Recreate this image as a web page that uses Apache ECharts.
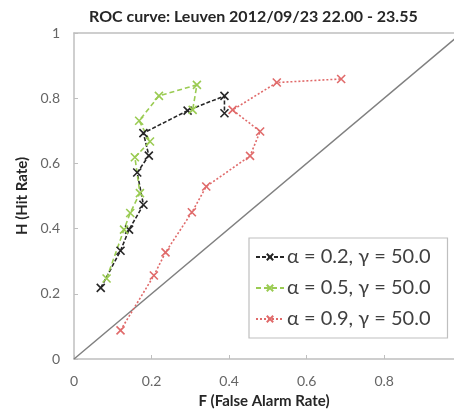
<!DOCTYPE html>
<html>
<head>
<meta charset="utf-8">
<script src="https://cdn.jsdelivr.net/npm/echarts@6/dist/echarts.min.js"></script>
<style>
  html, body { margin: 0; padding: 0; background: #fff; }
  #chart { width: 454px; height: 414px; }
</style>
</head>
<body>
<div id="chart"></div>
<script>
// ROC points: F (false alarm rate) and H (hit rate) per smoothing setting
const alpha02F = [0.069, 0.120, 0.142, 0.179, 0.163, 0.193, 0.179, 0.293, 0.388, 0.388];
const alpha02H = [0.218, 0.332, 0.397, 0.473, 0.572, 0.624, 0.693, 0.762, 0.807, 0.754];

const alpha05F = [0.084, 0.129, 0.145, 0.170, 0.157, 0.196, 0.168, 0.219, 0.317, 0.306];
const alpha05H = [0.247, 0.397, 0.448, 0.509, 0.619, 0.667, 0.731, 0.807, 0.841, 0.764];

const alpha09F = [0.120, 0.206, 0.236, 0.304, 0.341, 0.454, 0.480, 0.409, 0.523, 0.689];
const alpha09H = [0.088, 0.256, 0.327, 0.450, 0.529, 0.623, 0.698, 0.764, 0.848, 0.859];

const seriesNames = ['α = 0.2, γ = 50.0', 'α = 0.5, γ = 50.0', 'α = 0.9, γ = 50.0'];
const diagonalF = [0, 1];
const diagonalH = [0, 1];

const FONT = 'Lato, "Liberation Sans", sans-serif';
const AXIS_GRAY = '#bfbfbf';
const LABEL_GRAY = '#666666';
const CROSS = 'path://M0,0L10,10M10,0L0,10';

const pairs = (xs, ys) => xs.map((x, i) => [x, ys[i]]);

function rocSeries(name, xs, ys, color, dash) {
  return {
    name: name,
    type: 'line',
    data: pairs(xs, ys),
    symbol: CROSS,
    symbolSize: 8,
    showAllSymbol: true,
    lineStyle: { color: color, width: 1.6, type: dash },
    itemStyle: { color: color, borderColor: color, borderWidth: 1.6 },
    emphasis: { disabled: true },
    animation: false,
    z: 3
  };
}

const chart = echarts.init(document.getElementById('chart'), null, { renderer: 'canvas' });

chart.setOption({
  animation: false,
  backgroundColor: '#ffffff',
  title: {
    text: 'ROC curve: Leuven 2012/09/23 22.00 - 23.55',
    left: 84,
    top: 4,
    textStyle: { fontFamily: FONT, fontSize: 16, fontWeight: 'bold', color: '#262626' }
  },
  grid: { left: 74, right: 0, top: 33, bottom: 55, containLabel: false },
  legend: {
    orient: 'vertical',
    left: 249,
    top: 238,
    padding: [9, 17, 9, 6],
    itemGap: 11,
    itemWidth: 28,
    itemHeight: 8,
    backgroundColor: '#ffffff',
    borderColor: AXIS_GRAY,
    borderWidth: 1.2,
    data: seriesNames,
    textStyle: { fontFamily: FONT, fontSize: 20, color: '#404040', padding: [0, 0, 0, -2] },
    selectedMode: false
  },
  xAxis: [
    {
      type: 'value',
      min: 0,
      max: 0.98,
      interval: 0.2,
      name: 'F (False Alarm Rate)',
      nameLocation: 'middle',
      nameGap: 35,
      nameTextStyle: { fontFamily: FONT, fontSize: 15, fontWeight: 'bold', color: '#262626' },
      axisLine: { lineStyle: { color: AXIS_GRAY, width: 1.5 } },
      axisTick: { show: true, inside: true, length: 4, lineStyle: { color: AXIS_GRAY } },
      axisLabel: {
        margin: 15, showMaxLabel: false,
        fontFamily: FONT, fontSize: 14, color: LABEL_GRAY
      },
      splitLine: { show: false }
    },
    {
      type: 'value',
      position: 'top',
      min: 0,
      max: 0.98,
      axisLine: { show: true, lineStyle: { color: AXIS_GRAY, width: 1.5 } },
      axisTick: { show: false },
      axisLabel: { show: false },
      splitLine: { show: false }
    }
  ],
  yAxis: {
    type: 'value',
    min: 0,
    max: 1,
    interval: 0.2,
    name: 'H (Hit Rate)',
    nameLocation: 'middle',
    nameGap: 40,
    nameTextStyle: { fontFamily: FONT, fontSize: 15, fontWeight: 'bold', color: '#262626' },
    axisLine: { show: true, lineStyle: { color: AXIS_GRAY, width: 1.5 } },
    axisTick: { show: true, inside: true, length: 4, lineStyle: { color: AXIS_GRAY } },
    axisLabel: { margin: 14, fontFamily: FONT, fontSize: 14, color: LABEL_GRAY },
    splitLine: { show: false }
  },
  series: [
    {
      name: 'diagonal',
      type: 'line',
      data: pairs(diagonalF, diagonalH),
      symbol: 'none',
      lineStyle: { color: '#808080', width: 1.5 },
      emphasis: { disabled: true },
      clip: true,
      z: 2
    },
    rocSeries(seriesNames[0], alpha02F, alpha02H, '#262626', [4, 2]),
    rocSeries(seriesNames[1], alpha05F, alpha05H, '#9acb52', [5, 3]),
    rocSeries(seriesNames[2], alpha09F, alpha09H, '#e06a6a', [2, 2])
  ]
});
</script>
</body>
</html>
